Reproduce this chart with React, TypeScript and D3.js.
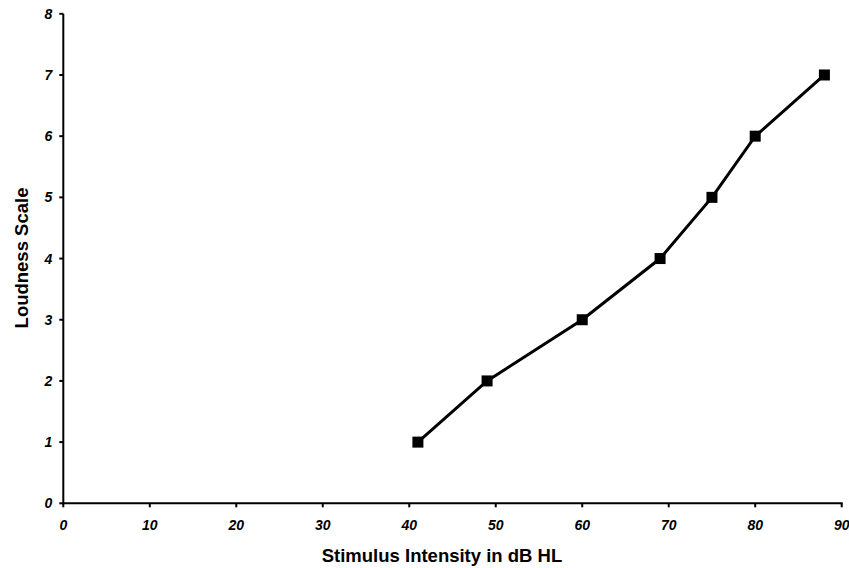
import React from "react";
import * as d3 from "d3";

const intensity = [41, 49, 60, 69, 75, 80, 88];
const loudness = [1, 2, 3, 4, 5, 6, 7];
const xTicks = [0, 10, 20, 30, 40, 50, 60, 70, 80, 90];
const yTicks = [0, 1, 2, 3, 4, 5, 6, 7, 8];
const xTitle = "Stimulus Intensity in dB HL";
const yTitle = "Loudness Scale";

export default function App() {
  const W = 849, H = 568;
  const x = d3.scaleLinear().domain([0, 90]).range([63.3, 841.7]);
  const y = d3.scaleLinear().domain([0, 8]).range([503.3, 13.8]);
  const pts = intensity.map((v, i) => [x(v), y(loudness[i])] as [number, number]);
  const line = d3.line()(pts) || "";
  const font = "Arial, 'Liberation Sans', sans-serif";
  return (
    <svg width={W} height={H} style={{ position: "absolute", left: 0, top: 0 }}>
      <rect width={W} height={H} fill="#fff" />
      <line x1={x(0)} x2={x(0)} y1={y(8)} y2={y(0) + 1} stroke="#000" strokeWidth={2} />
      <line x1={x(0) - 1} x2={x(90) + 1} y1={y(0)} y2={y(0)} stroke="#000" strokeWidth={2} />
      {yTicks.map((t) => (
        <g key={"y" + t}>
          <line x1={x(0) - 4} x2={x(0)} y1={y(t)} y2={y(t)} stroke="#000" strokeWidth={2} />
          <text x={x(0) - 11} y={y(t) + 5} textAnchor="end" fontFamily={font} fontSize={14} fontWeight="bold" fontStyle="italic">{t}</text>
        </g>
      ))}
      {xTicks.map((t) => (
        <g key={"x" + t}>
          <line x1={x(t)} x2={x(t)} y1={y(0)} y2={y(0) + 4} stroke="#000" strokeWidth={2} />
          <text x={x(t)} y={y(0) + 27} textAnchor="middle" fontFamily={font} fontSize={14} fontWeight="bold" fontStyle="italic">{t}</text>
        </g>
      ))}
      <path d={line} fill="none" stroke="#000" strokeWidth={3} />
      {pts.map((p, i) => (
        <rect key={i} x={p[0] - 5.5} y={p[1] - 5.5} width={11} height={11} fill="#000" />
      ))}
      <text x={442} y={562} textAnchor="middle" fontFamily={font} fontSize={18.5} fontWeight="bold">{xTitle}</text>
      <text transform={`translate(28,258) rotate(-90)`} textAnchor="middle" fontFamily={font} fontSize={18.5} fontWeight="bold">{yTitle}</text>
    </svg>
  );
}
